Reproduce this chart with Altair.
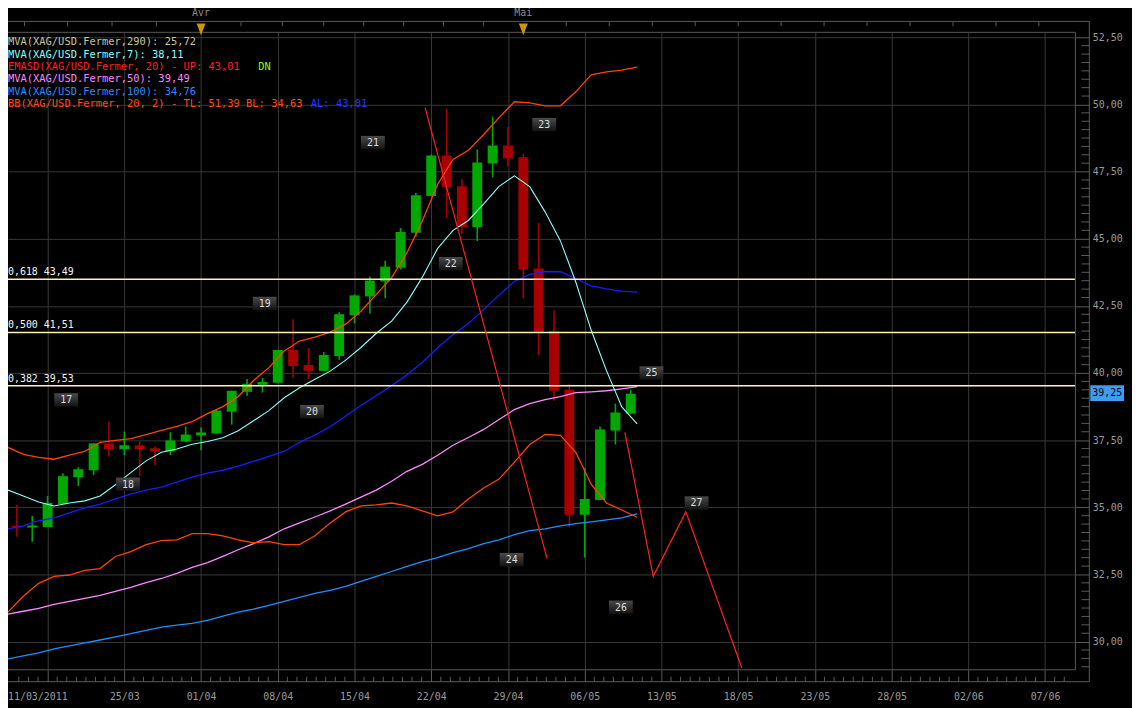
import altair as alt
import pandas as pd

FONT = "DejaVu Sans Mono"

# ---------------- data ----------------
day_index = list(range(-1, 41))
opens = [36.00, 34.30, 34.25, 34.27, 35.12, 36.12, 36.38, 37.38, 37.16, 37.31, 37.20,
         37.08, 37.45, 37.68, 37.75, 38.56, 39.30, 39.56, 39.64, 40.86, 40.30, 40.08,
         40.63, 42.15, 42.85, 43.41, 43.92, 45.22, 46.59, 48.10, 46.95, 45.44, 47.80,
         48.47, 48.03, 43.89, 41.56, 39.38, 34.72, 35.27, 37.86, 38.49]
highs = [36.30, 35.09, 34.68, 35.42, 36.27, 36.49, 37.38, 38.19, 37.82, 37.45, 37.27,
         37.79, 38.01, 37.97, 38.62, 39.34, 39.78, 39.82, 40.86, 42.00, 40.93, 40.78,
         42.26, 42.93, 43.59, 44.18, 45.40, 46.70, 48.14, 49.84, 47.21, 48.32, 49.54,
         49.17, 48.17, 45.59, 42.33, 39.60, 36.46, 38.01, 38.86, 39.38]
lows = [34.20, 33.90, 33.72, 34.27, 35.12, 35.79, 36.20, 36.90, 36.94, 36.16, 36.57,
        36.94, 37.42, 37.12, 37.75, 38.08, 39.15, 39.27, 39.64, 39.82, 39.78, 40.08,
        40.49, 41.85, 42.22, 42.78, 43.85, 45.07, 46.59, 45.77, 45.18, 44.92, 47.29,
        47.69, 42.78, 40.67, 38.97, 34.27, 33.13, 35.27, 37.34, 38.49]
closes = [34.27, 34.27, 34.32, 35.16, 36.16, 36.42, 37.38, 37.16, 37.31, 37.16, 37.08,
          37.49, 37.71, 37.79, 38.60, 39.34, 39.60, 39.67, 40.86, 40.26, 40.08, 40.67,
          42.19, 42.89, 43.44, 43.96, 45.25, 46.62, 48.10, 46.92, 45.44, 47.84, 48.47,
          47.99, 43.85, 41.52, 39.34, 34.72, 35.31, 37.90, 38.53, 39.23]

ma7 = [35.64, 35.42, 35.20, 35.05, 35.16, 35.24, 35.42, 35.84, 36.29, 36.73, 37.05,
       37.17, 37.35, 37.45, 37.59, 37.85, 38.22, 38.60, 39.08, 39.45, 39.77, 40.07,
       40.48, 40.95, 41.48, 41.93, 42.64, 43.57, 44.64, 45.31, 45.68, 46.30, 46.95,
       47.34, 46.94, 46.00, 44.92, 43.39, 41.60, 40.09, 38.74, 38.11]
bb_mid = [34.20, 34.31, 34.50, 34.61, 34.79, 34.98, 35.12, 35.31, 35.49, 35.64, 35.75,
          35.94, 36.12, 36.27, 36.38, 36.53, 36.71, 36.90, 37.08, 37.42, 37.69, 38.01,
          38.40, 38.79, 39.16, 39.53, 39.93, 40.40, 40.94, 41.43, 41.84, 42.36, 42.90,
          43.41, 43.67, 43.78, 43.77, 43.52, 43.24, 43.13, 43.05, 43.01]
bb_up = [37.23, 36.97, 36.86, 36.79, 36.94, 37.08, 37.42, 37.49, 37.56, 37.71, 37.86,
         38.01, 38.19, 38.49, 38.75, 39.12, 39.72, 40.20, 40.82, 41.19, 41.34, 41.52,
         41.82, 42.30, 42.93, 43.55, 44.48, 45.66, 47.03, 47.95, 48.29, 48.88, 49.51,
         50.10, 50.06, 49.95, 49.95, 50.47, 51.10, 51.21, 51.28, 51.39]
bb_low = [31.10, 31.69, 32.17, 32.43, 32.48, 32.65, 32.72, 33.17, 33.35, 33.61, 33.76,
          33.79, 34.02, 34.02, 33.94, 33.79, 33.68, 33.72, 33.61, 33.61, 33.94, 34.42,
          34.83, 35.05, 35.09, 35.16, 35.05, 34.87, 34.68, 34.83, 35.31, 35.72, 36.05,
          36.68, 37.34, 37.71, 37.68, 37.05, 35.86, 35.16, 34.90, 34.63]
ma50 = [31.02, 31.13, 31.24, 31.39, 31.50, 31.61, 31.72, 31.87, 32.02, 32.20, 32.35,
        32.54, 32.76, 32.94, 33.17, 33.42, 33.65, 33.90, 34.20, 34.42, 34.64, 34.87,
        35.12, 35.38, 35.64, 35.97, 36.34, 36.60, 36.94, 37.31, 37.60, 37.90, 38.27,
        38.64, 38.86, 39.01, 39.12, 39.27, 39.30, 39.34, 39.41, 39.49]
ma100 = [29.36, 29.47, 29.58, 29.73, 29.84, 29.95, 30.06, 30.18, 30.30, 30.42, 30.54,
         30.61, 30.68, 30.79, 30.95, 31.10, 31.21, 31.35, 31.50, 31.65, 31.80, 31.91,
         32.06, 32.24, 32.43, 32.61, 32.80, 32.98, 33.13, 33.31, 33.46, 33.65, 33.79,
         33.98, 34.13, 34.20, 34.31, 34.39, 34.46, 34.53, 34.61, 34.76]

fib_levels = [43.49, 41.51, 39.53]
fib_texts = ["0,618 43,49", "0,500 41,51", "0,382 39,53"]

wave_names = ["17", "18", "19", "20", "21", "22", "23", "24", "25", "26", "27"]
wave_x = [3.21, 7.24, 16.15, 19.23, 23.20, 28.27, 34.36, 32.24, 41.35, 39.36, 44.29]
wave_y = [39.00, 35.86, 42.59, 38.56, 48.58, 44.07, 49.25, 33.05, 40.00, 31.28, 35.16]

trend_group = ["a", "a", "b", "b", "b", "b"]
trend_x = [26.60, 34.55, 39.62, 41.47, 43.59, 47.24]
trend_y = [49.88, 33.09, 37.79, 32.43, 34.83, 29.02]

last_price = [39.25]
last_price_text = "39,25"

x_major = [2, 7, 12, 17, 22, 27, 32, 37, 42, 47, 52, 57, 62, 67]
x_major_labels = ["", "25/03", "01/04", "08/04", "15/04", "22/04", "29/04", "06/05",
                  "13/05", "18/05", "23/05", "28/05", "02/06", "07/06"]
first_date_label = "11/03/2011"
month_x = [12, 33]
month_labels = ["Avr", "Mai"]
top_ticks = [0.5, 3.3, 6.2, 9.1, 14.6, 17.3, 20.0, 22.6, 25.2, 27.8, 30.4, 35.8, 38.6,
             41.4, 44.2, 47.0, 49.8, 52.6, 55.4, 58.2, 61.0, 63.8, 66.6]
y_major = [30.0, 32.5, 35.0, 37.5, 40.0, 42.5, 45.0, 47.5, 50.0, 52.5]

legend_lines = [
    ("MVA(XAG/USD.Fermer,290): 25,72", "#c8c4a0"),
    ("MVA(XAG/USD.Fermer,7): 38,11", "#86ffff"),
    ("EMASD(XAG/USD.Fermer, 20) - UP: 43,01", "#ff2020"),
    ("MVA(XAG/USD.Fermer,50): 39,49", "#ff86ff"),
    ("MVA(XAG/USD.Fermer,100): 34,76", "#2a8cff"),
    ("BB(XAG/USD.Fermer, 20, 2) - TL: 51,39 BL: 34,63", "#ff4a10"),
]
legend_extra = [("DN", "#80ff00", 2), ("AL: 43,01", "#2038ff", 5)]

# ---------------- geometry / styles ----------------
W, H = 1075, 642
XMIN, XMAX = -0.256, 68.654
YMIN, YMAX = 28.951, 52.685
LINE_SHIFT = 0.42
GREEN, RED = "#00a800", "#a80000"
GRID = "#383838"
FRAME = "#5a5a5a"
AXTXT = "#9a9a9a"

xs = alt.Scale(domain=[XMIN, XMAX], nice=False, zero=False)
ys = alt.Scale(domain=[YMIN, YMAX], nice=False, zero=False)

candles = pd.DataFrame({"i": day_index, "open": opens, "high": highs,
                        "low": lows, "close": closes})
candles["dir"] = ["up" if c >= o else "down" for o, c in zip(opens, closes)]

lines_df = pd.DataFrame({"i": day_index, "ma7": ma7, "bb_mid": bb_mid, "bb_up": bb_up,
                         "bb_low": bb_low, "ma50": ma50, "ma100": ma100})
lines_df["xl"] = lines_df["i"] + LINE_SHIFT

one = pd.DataFrame({"k": [0]})

label_expr = ("[" + ",".join("'%s'" % s for s in x_major_labels) + "][indexof(["
              + ",".join(str(v) for v in x_major) + "], datum.value)]")

x_axis = alt.Axis(values=x_major, labelExpr=label_expr, orient="bottom", grid=True,
                  gridColor=GRID, gridWidth=1, tickSize=12, tickColor=FRAME,
                  domain=False, labelColor=AXTXT, labelFont=FONT, labelFontSize=10,
                  labelBaseline="middle", labelPadding=15, labelFlush=False,
                  labelOverlap=False, title=None)
y_axis = alt.Axis(values=y_major, orient="right", grid=True, gridColor=GRID,
                  gridWidth=1, tickSize=14, tickColor=FRAME, domain=False,
                  labelColor=AXTXT, labelFont=FONT, labelFontSize=10, labelPadding=3,
                  labelFlush=False, labelOverlap=False, title=None,
                  labelExpr="replace(format(datum.value, '.2f'), '.', ',')")

dir_color = alt.Color("dir:N", scale=alt.Scale(domain=["up", "down"], range=[GREEN, RED]),
                      legend=None)

layers = []

# wicks (carry the axes)
layers.append(alt.Chart(candles).mark_rule(strokeWidth=1.6, clip=True).encode(
    x=alt.X("i:Q", scale=xs, axis=x_axis),
    y=alt.Y("low:Q", scale=ys, axis=y_axis),
    y2="high:Q",
    color=dir_color))

# bodies
layers.append(alt.Chart(candles).mark_bar(size=10, clip=True).encode(
    x=alt.X("i:Q", scale=xs, title=None),
    y=alt.Y("open:Q", scale=ys, title=None),
    y2="close:Q",
    color=dir_color))

# indicator lines
for col, colr, sw in [("ma100", "#1e8fff", 1.3), ("ma50", "#ff88ff", 1.3),
                      ("bb_low", "#ff4400", 1.3), ("bb_up", "#ff4400", 1.3),
                      ("bb_mid", "#1a1aff", 1.3), ("ma7", "#8cffff", 1.1)]:
    layers.append(alt.Chart(lines_df).mark_line(color=colr, strokeWidth=sw, clip=True).encode(
        x=alt.X("xl:Q", scale=xs, title=None),
        y=alt.Y(col + ":Q", scale=ys, title=None)))

# fibonacci levels
fib_df = pd.DataFrame({"level": fib_levels, "txt": fib_texts})
layers.append(alt.Chart(fib_df).mark_rule(color="#fff0b8", strokeWidth=1.5, clip=True).encode(
    y=alt.Y("level:Q", scale=ys, title=None),
    x=alt.value(0), x2=alt.value(W)))
layers.append(alt.Chart(fib_df).mark_text(align="left", baseline="middle", dy=-7,
                                          color="#f4f4f4", font=FONT, fontSize=10).encode(
    y=alt.Y("level:Q", scale=ys, title=None), x=alt.value(0), text="txt:N"))

# red trend lines
trend_df = pd.DataFrame({"g": trend_group, "x": trend_x, "y": trend_y})
layers.append(alt.Chart(trend_df).mark_line(color="#ff2020", strokeWidth=1.2, clip=True).encode(
    x=alt.X("x:Q", scale=xs, title=None),
    y=alt.Y("y:Q", scale=ys, title=None),
    detail="g:N"))

# wave count labels
wave_df = pd.DataFrame({"n": wave_names, "x": wave_x, "y": wave_y})
box_grad = alt.Gradient(gradient="linear",
                        stops=[alt.GradientStop(color="#4a4a4a", offset=0),
                               alt.GradientStop(color="#121212", offset=1)],
                        x1=0, x2=0, y1=0, y2=1)
layers.append(alt.Chart(wave_df).mark_point(
    shape="M-1,-0.56L1,-0.56L1,0.56L-1,0.56Z", size=576, filled=True, fill=box_grad,
    strokeWidth=0, opacity=1).encode(
    x=alt.X("x:Q", scale=xs, title=None), y=alt.Y("y:Q", scale=ys, title=None)))
layers.append(alt.Chart(wave_df).mark_text(color="#dedede", font=FONT, fontSize=10,
                                           baseline="middle", dy=0.5).encode(
    x=alt.X("x:Q", scale=xs, title=None), y=alt.Y("y:Q", scale=ys, title=None),
    text="n:N"))

# frames
def rule(**enc):
    return alt.Chart(one).mark_rule(color=FRAME, strokeWidth=1).encode(**enc)

layers += [
    rule(x=alt.value(0), x2=alt.value(W), y=alt.value(0)),
    rule(x=alt.value(W), y=alt.value(0), y2=alt.value(H)),
    rule(x=alt.value(0), x2=alt.value(W), y=alt.value(H)),
    rule(x=alt.value(0), x2=alt.value(W + 14), y=alt.value(-11)),
    rule(x=alt.value(W + 14), y=alt.value(-11), y2=alt.value(H + 12)),
    rule(x=alt.value(0), x2=alt.value(W + 14), y=alt.value(H + 12)),
]

# minor ticks
x_minor = [2 + k * 0.625 for k in range(-3, 107) if k % 8 != 0]
x_minor = [v for v in x_minor if XMIN <= v <= XMAX]
y_minor = [30 + k * 0.3125 for k in range(-3, 72) if k % 8 != 0]
y_minor = [v for v in y_minor if YMIN <= v <= YMAX]
layers.append(alt.Chart(pd.DataFrame({"v": x_minor})).mark_tick(
    orient="vertical", size=5, thickness=1, color=FRAME, opacity=1).encode(
    x=alt.X("v:Q", scale=xs, title=None), y=alt.value(H + 9.5)))
layers.append(alt.Chart(pd.DataFrame({"v": y_minor})).mark_tick(
    orient="horizontal", size=8, thickness=1, color=FRAME, opacity=1).encode(
    y=alt.Y("v:Q", scale=ys, title=None), x=alt.value(W + 10)))

# top month axis
layers.append(alt.Chart(pd.DataFrame({"v": top_ticks})).mark_tick(
    orient="vertical", size=5, thickness=1, color=FRAME, opacity=1).encode(
    x=alt.X("v:Q", scale=xs, title=None), y=alt.value(-8.5)))
month_df = pd.DataFrame({"x": month_x, "m": month_labels})
layers.append(alt.Chart(month_df).mark_point(
    shape="M-0.45,-0.6L0.45,-0.6L0,0.6Z", size=400, filled=True, color="#c8960c",
    opacity=1).encode(x=alt.X("x:Q", scale=xs, title=None), y=alt.value(-3)))
layers.append(alt.Chart(month_df).mark_text(color="#8a8a8a", font=FONT, fontSize=10,
                                            baseline="middle").encode(
    x=alt.X("x:Q", scale=xs, title=None), y=alt.value(-19), text="m:N"))

# first date label
layers.append(alt.Chart(one).mark_text(text=first_date_label, align="left", baseline="middle",
                                       color=AXTXT, font=FONT, fontSize=10).encode(
    x=alt.value(0), y=alt.value(H + 27)))

# last price marker
price_df = pd.DataFrame({"p": last_price})
layers.append(alt.Chart(price_df).mark_point(
    shape="M-1,-0.47L1,-0.47L1,0.47L-1,0.47Z", size=1156, filled=True,
    color="#3d9df5", opacity=1).encode(
    x=alt.value(W + 32), y=alt.Y("p:Q", scale=ys, title=None)))
layers.append(alt.Chart(price_df).mark_text(text=last_price_text, color="#000000", font=FONT,
                                            fontSize=10, baseline="middle").encode(
    x=alt.value(W + 32), y=alt.Y("p:Q", scale=ys, title=None)))

# indicator legend text
legend_y = [10, 22.5, 35, 47.5, 60, 72.5]
for (txt, colr), yy in zip(legend_lines, legend_y):
    layers.append(alt.Chart(one).mark_text(text=txt, align="left", baseline="middle",
                                           color=colr, font=FONT, fontSize=10.5).encode(
        x=alt.value(0), y=alt.value(yy)))
extra_x = {2: 252, 5: 305}
for txt, colr, row in legend_extra:
    layers.append(alt.Chart(one).mark_text(text=txt, align="left", baseline="middle",
                                           color=colr, font=FONT, fontSize=10.5).encode(
        x=alt.value(extra_x[row]), y=alt.value(legend_y[row])))

chart = alt.layer(*layers).properties(
    width=W, height=H,
    padding={"left": 0, "top": 22, "right": 57, "bottom": 36},
    autosize=alt.AutoSizeParams(type="none"),
    background="#000000",
).configure_view(strokeWidth=0)

chart.save("out.html", embed_options={"renderer": "svg", "actions": False})
